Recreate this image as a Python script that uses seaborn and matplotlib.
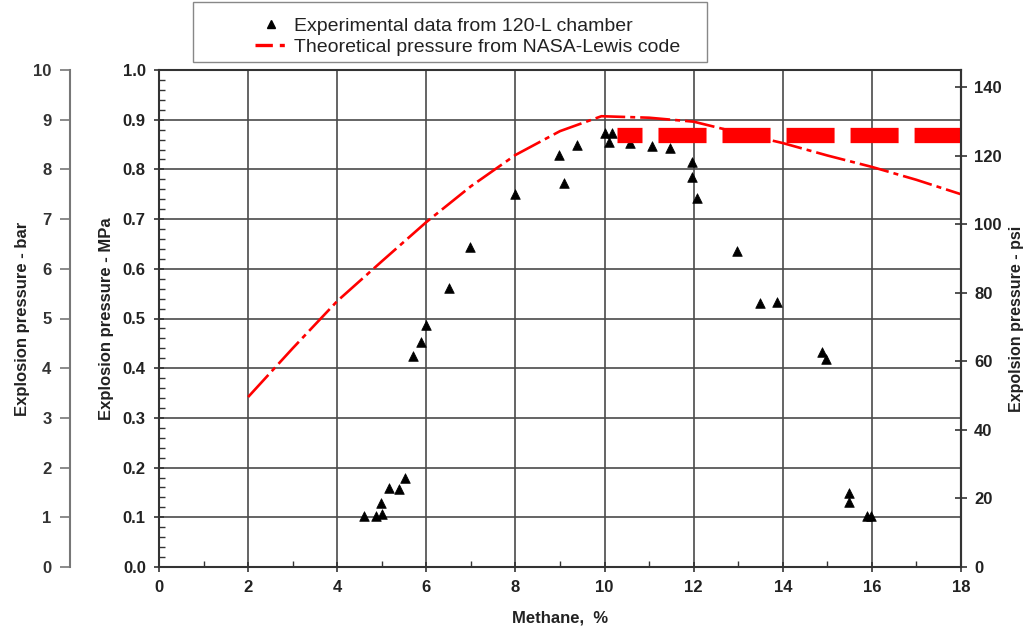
import matplotlib
matplotlib.use("Agg")
import matplotlib.pyplot as plt
from matplotlib.ticker import MultipleLocator
from matplotlib.patches import Rectangle
from matplotlib.lines import Line2D
import seaborn as sns
import pandas as pd

# ---------------- data ----------------
exp_x = [4.6, 4.87, 5.01, 4.99, 5.17, 5.38, 5.51, 5.69, 5.89, 6.0, 6.5, 6.98, 7.99,
         8.98, 9.08, 9.39, 10.0, 10.09, 10.16, 10.57, 11.07, 11.48, 11.97, 11.97, 12.08,
         12.97, 13.48, 13.88, 14.88, 14.98, 15.48, 15.48, 15.89, 15.98]
exp_y = [0.103, 0.103, 0.106, 0.129, 0.159, 0.157, 0.180, 0.425, 0.453, 0.487, 0.562, 0.643, 0.750,
         0.828, 0.772, 0.849, 0.873, 0.856, 0.873, 0.854, 0.848, 0.844, 0.815, 0.785, 0.743,
         0.636, 0.531, 0.533, 0.433, 0.419, 0.148, 0.131, 0.103, 0.103]

th_x = [2, 3, 4, 5, 6, 7, 8, 9, 9.93, 11, 12, 13, 14, 15, 16, 17, 18]
th_y = [0.342, 0.44, 0.535, 0.615, 0.694, 0.766, 0.829, 0.877, 0.907, 0.904, 0.896,
        0.874, 0.853, 0.828, 0.805, 0.779, 0.750]

bar_x = [10.27, 18.0]
bar_y = [0.869, 0.869]

x_ticks = [0, 2, 4, 6, 8, 10, 12, 14, 16, 18]
mpa_ticks = [0.0, 0.1, 0.2, 0.3, 0.4, 0.5, 0.6, 0.7, 0.8, 0.9, 1.0]
bar_ticks = [0, 1, 2, 3, 4, 5, 6, 7, 8, 9, 10]
psi_ticks = [0, 20, 40, 60, 80, 100, 120, 140]
PSI_PER_MPA = 145.038

legend_labels = ["Experimental data from 120-L chamber",
                 "Theoretical pressure from NASA-Lewis code"]

# ---------------- style ----------------
sns.set_style("ticks")
plt.rcParams['font.family'] = ['Liberation Sans', 'DejaVu Sans']
plt.rcParams['lines.scale_dashes'] = False
TXT = "#222222"
RED = "#ff0000"

fig = plt.figure(figsize=(10.28, 6.31), dpi=100)
fig.patch.set_facecolor("white")
L, R = 159 / 1028, 961 / 1028
B, T = (631 - 567) / 631, (631 - 70) / 631
ax = fig.add_axes([L, B, R - L, T - B])

exp_df = pd.DataFrame({"x": exp_x, "y": exp_y})
th_df = pd.DataFrame({"x": th_x, "y": th_y})
bar_df = pd.DataFrame({"x": bar_x, "y": bar_y})

sns.scatterplot(data=exp_df, x="x", y="y", marker="^", s=48, color="black",
                edgecolor="black", linewidth=0.5, ax=ax, zorder=3, legend=False)
sns.lineplot(data=th_df, x="x", y="y", color=RED, linewidth=1.9, ax=ax,
             zorder=4, legend=False, sort=False)
th_line = ax.lines[-1]
th_line.set_linestyle((0, (21.6, 3.6, 3.6, 3.6)))
sns.lineplot(data=bar_df, x="x", y="y", color=RED, linewidth=11, ax=ax,
             zorder=5, legend=False, sort=False)
bar_line = ax.lines[-1]
bar_line.set_linestyle((16.6, (34.6, 11.5)))
bar_line.set_dash_capstyle("butt")

ax.set_xlim(0, 18)
ax.set_ylim(0, 1.0)
ax.set_xticks(x_ticks)
ax.set_yticks(mpa_ticks)
ax.set_yticklabels([f"{v:.1f}" for v in mpa_ticks])
ax.xaxis.set_minor_locator(MultipleLocator(1))
ax.yaxis.set_minor_locator(MultipleLocator(0.02))
ax.set_axisbelow(True)
ax.grid(True, which="major", color="#4a4a4a", linewidth=1.2)
for s in ax.spines.values():
    s.set_color("#333333")
    s.set_linewidth(1.5)
ax.tick_params(axis="both", which="major", direction="inout", length=7, width=1.2,
               colors="#333333", labelcolor=TXT, labelsize=12, pad=6)
ax.tick_params(axis="both", which="minor", direction="in", length=4, width=1.0,
               colors="#333333")
for lab in ax.get_xticklabels() + ax.get_yticklabels():
    lab.set_fontweight("bold")
ax.set_xlabel("Methane,  %", fontsize=12, fontweight="bold", color=TXT, labelpad=11)
ax.set_ylabel("Explosion pressure - MPa", fontsize=12, fontweight="bold", color=TXT,
              labelpad=6)

# right psi axis
axp = ax.twinx()
axp.set_ylim(0, 1.0 * PSI_PER_MPA)
axp.set_yticks(psi_ticks)
axp.tick_params(axis="y", which="major", direction="inout", length=9, width=1.2,
                colors="#333333", labelcolor=TXT, labelsize=12, pad=5)
for lab in axp.get_yticklabels():
    lab.set_fontweight("bold")
for k, s in axp.spines.items():
    s.set_visible(k == "right")
axp.spines["right"].set_color("#333333")
axp.spines["right"].set_linewidth(1.5)
axp.set_ylabel("Expolsion pressure - psi", fontsize=11.5, fontweight="bold", color=TXT,
               labelpad=5, rotation=90)

# left bar axis
axb = ax.twinx()
axb.set_ylim(0, 10)
axb.set_yticks(bar_ticks)
axb.yaxis.set_ticks_position("left")
axb.yaxis.set_label_position("left")
for k, s in axb.spines.items():
    s.set_visible(k == "left")
axb.spines["left"].set_position(("axes", (69.5 - 159) / (961 - 159)))
axb.spines["left"].set_color("#777777")
axb.spines["left"].set_linewidth(1.5)
axb.tick_params(axis="y", which="major", direction="out", length=7, width=1.2,
                colors="#777777", labelcolor="#333333", labelsize=12, pad=6)
for lab in axb.get_yticklabels():
    lab.set_fontweight("bold")
axb.set_ylabel("Explosion pressure - bar", fontsize=12, fontweight="bold", color=TXT,
               labelpad=2)

# legend box + legend
fig.patches.append(Rectangle((193 / 1028, (631 - 62) / 631), 514 / 1028, 60 / 631,
                             transform=fig.transFigure, facecolor="white",
                             edgecolor="#888888", linewidth=1.0, zorder=1))
h1 = Line2D([], [], linestyle="none", marker="^", markersize=6, color="black")
h2 = Line2D([], [], color=RED, linewidth=2.4, linestyle=(0, (12.5, 5, 3.6, 3.6)))
leg = fig.legend([h1, h2], legend_labels, loc="center left",
                 bbox_to_anchor=(255 / 1028, 1 - 36.5 / 631), frameon=False,
                 fontsize=14, handlelength=1.65, handletextpad=0.36, labelspacing=0.2,
                 borderpad=0, borderaxespad=0)
for t in leg.get_texts():
    t.set_color(TXT)

fig.savefig("out.png", dpi=100, facecolor="white")
